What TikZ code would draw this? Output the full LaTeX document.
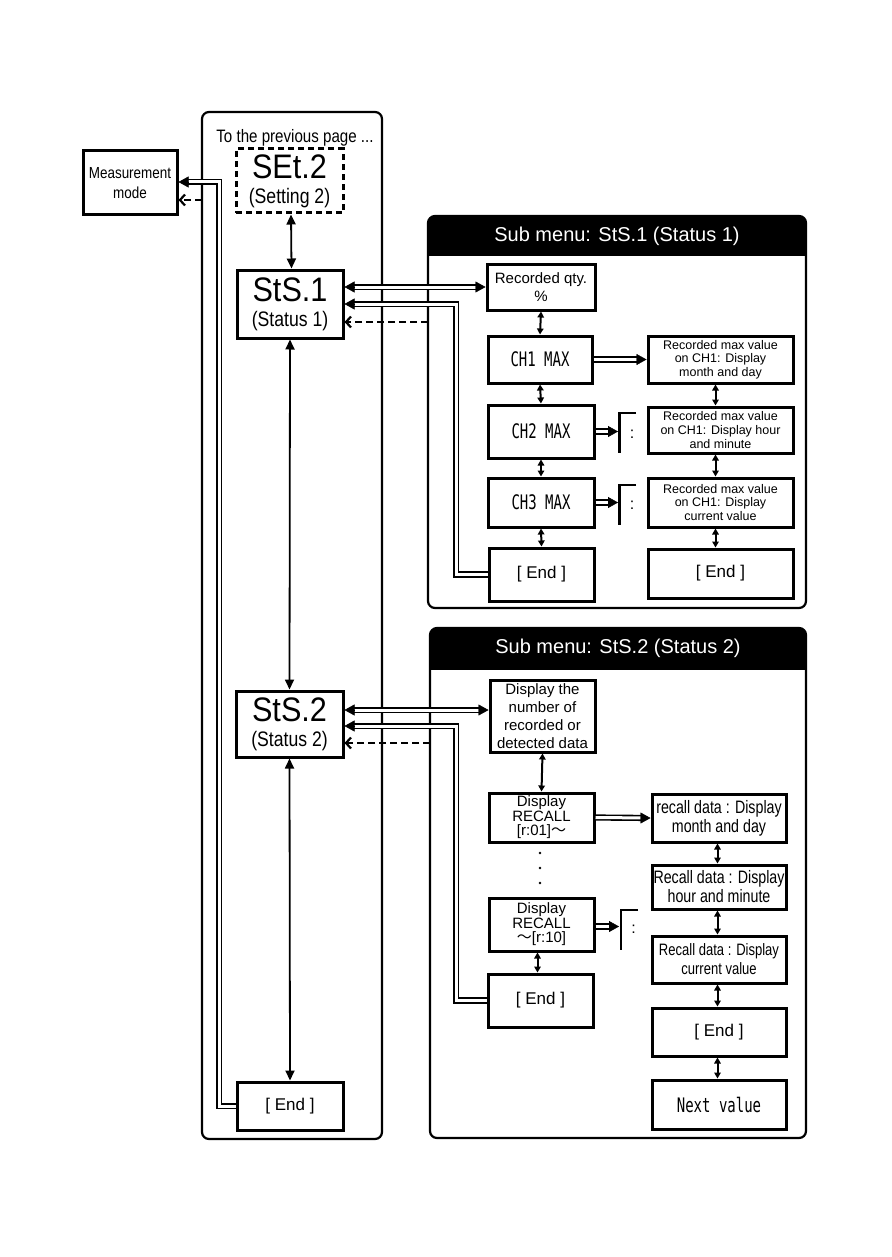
\documentclass[tikz,border=0pt]{standalone}
\usepackage{fontspec}
\setmainfont{Liberation Sans}
\newfontfamily\nar[FakeStretch=0.84]{Liberation Sans}
\newfontfamily\narr[FakeStretch=0.79]{Liberation Sans}
\newfontfamily\segf[FakeStretch=0.9]{Liberation Sans}
\newfontfamily\monof[FakeStretch=0.7]{DejaVu Sans Mono}
\newfontfamily\cjkf{Noto Sans CJK JP}
\usetikzlibrary{arrows.meta}
\newcommand\fs[2]{\fontsize{#1}{#2}\selectfont}
\newcommand\bx[6][]{\node[box,minimum width={#5pt-#3pt},minimum height={#6pt-#4pt},#1] (#2) at ({(#3+#5)/2},{(#4+#6)/2})}
\newcommand\tipL[1]{\draw[tipst] ([xshift=10pt]#1) -- (#1);}
\newcommand\tipR[1]{\draw[tipst] ([xshift=-10pt]#1) -- (#1);}
\tikzset{
  Tbig/.tip={Triangle[length=10pt,width=9pt]},
  Tsm/.tip={Triangle[length=6pt,width=6.5pt]},
  Tbarb/.tip={Straight Barb[length=5pt,width=11pt,line width=2.2pt]},
  tipst/.style={line width=0.4pt,-{Triangle[length=10pt,width=11pt]}},
  box/.style={draw, line width=3pt, inner sep=0pt, align=center},
  panel/.style={draw, line width=2.2pt, rounded corners=7pt},
  vline/.style={line width=1.8pt},
  svline/.style={line width=2pt},
  dbl/.style={double, double distance=3pt, line width=1.6pt},
  dsh/.style={line width=2pt, dash pattern=on 7pt off 4pt},
  brk/.style={line width=2.2pt},
}
\begin{document}
\begin{tikzpicture}[x=1pt,y=-1pt]
\useasboundingbox (0,0) rectangle (891,1257);

% ---------- main column ----------
\draw[panel] (202,112) rectangle (382,1139);
\node[font=\nar\fs{18}{20}] (prev) at (295,138) {To the previous page ...};
\bx[font=\nar\fs{16}{20}]{mm}{83}{151}{177}{215}{Measurement\\mode};
\bx[dash pattern=on 6pt off 4pt,font=\nar\fs{21}{25}]{set2}{236}{149}{343}{213}{{\segf\fs{34}{25}SEt.2}\\(Setting 2)};
\bx[font=\nar\fs{21}{25}]{sts1}{237}{270}{343}{338}{{\segf\fs{34}{25}StS.1}\\(Status 1)};
\bx[font=\nar\fs{21}{25}]{sts2}{236}{691}{343}{757}{{\segf\fs{34}{25}StS.2}\\(Status 2)};
\bx[font=\fs{17}{20}]{end0}{237}{1082}{343}{1130}{[ End ]};

\draw[vline,Tbig-Tbig] ([xshift=1.5pt]set2.south) -- ([xshift=1.5pt]sts1.north);
\draw[vline,Tbig-Tbig] (sts1.south) -- (sts2.north);
\draw[vline,Tbig-Tbig] (sts2.south) -- (end0.north);

\coordinate (c0) at (219,182);
\coordinate (t0) at (c0 -| mm.east);
\draw[dbl,shorten >=7pt] (end0.west) -| (c0) -- (t0);
\tipL{t0}
\coordinate (d0) at (202,200);
\draw[dsh,-Tbarb] (d0) -- (d0 -| mm.east);

% ---------- sub menu 1 ----------
\begin{scope}
\clip (420,205) rectangle (815,255);
\fill[rounded corners=7pt] (428,216) rectangle (806,300);
\end{scope}
\draw[panel] (428,216) rectangle (806,608);
\node[text=white,font=\fs{20}{22}] (h1) at (617,236) {Sub menu: StS.1 (Status 1)};

\bx[font=\fs{15}{17.6}]{rq}{487}{264}{595}{310}{Recorded qty.\\\%};
\bx[font=\monof\fs{20}{20}]{ch1}{488}{336}{592}{383}{CH1 MAX};
\bx[font=\monof\fs{20}{20}]{ch2}{488}{405}{594}{458}{CH2 MAX};
\bx[font=\monof\fs{20}{20}]{ch3}{488}{478}{594}{527}{CH3 MAX};
\bx[font=\fs{17}{20}]{endA}{489}{548}{594}{601}{[ End ]};
\bx[font=\fs{12.5}{13.7}]{r1}{648}{336}{793}{383}{Recorded max value\\on CH1: Display\\month and day};
\bx[font=\fs{12.5}{13.7}]{r2}{648}{407}{793}{453}{Recorded max value\\on CH1: Display hour\\and minute};
\bx[font=\fs{12.5}{13.7}]{r3}{648}{478}{793}{527}{Recorded max value\\on CH1: Display\\current value};
\bx[font=\fs{17}{20}]{endB}{648}{549}{793}{598}{[ End ]};

\draw[svline,Tsm-Tsm] (rq.south) -- (ch1.north);
\draw[svline,Tsm-Tsm] (ch1.south) -- (ch2.north);
\draw[svline,Tsm-Tsm] (ch2.south) -- (ch3.north);
\draw[svline,Tsm-Tsm] (ch3.south) -- (endA.north);
\draw[svline,Tsm-Tsm] ([xshift=-5pt]r1.south) -- ([xshift=-5pt]r2.north);
\draw[svline,Tsm-Tsm] ([xshift=-5pt]r2.south) -- ([xshift=-5pt]r3.north);
\draw[svline,Tsm-Tsm] ([xshift=-5pt]r3.south) -- ([xshift=-5pt]endB.north);

\coordinate (t1a) at (sts1.east |- rq.west);
\coordinate (t1b) at (rq.west);
\draw[dbl,shorten <=7pt,shorten >=7pt] (t1a) -- (t1b);
\tipL{t1a}
\tipR{t1b}
\coordinate (c1) at (456,304);
\coordinate (t1c) at (c1 -| sts1.east);
\draw[dbl,shorten >=7pt] (endA.west) -| (c1) -- (t1c);
\tipL{t1c}
\coordinate (d1) at (428,322);
\draw[dsh,-Tbarb] (d1) -- (d1 -| sts1.east);
\coordinate (t1d) at (r1.west);
\draw[dbl,shorten >=7pt] (ch1.east) -- (t1d);
\tipR{t1d}

\coordinate (b1) at (618,431.5);
\draw[dbl,shorten >=7pt] (ch2.east) -- (b1);
\tipR{b1}
\draw[brk] (636,413) -- (619.5,413) -- (619.5,453);
\node[font=\fs{16}{16}] (k1) at (632,434) {:};
\coordinate (b2) at (618,502.5);
\draw[dbl,shorten >=7pt] (ch3.east) -- (b2);
\tipR{b2}
\draw[brk] (636,485) -- (619.5,485) -- (619.5,525);
\node[font=\fs{16}{16}] (k2) at (632,505) {:};

% ---------- sub menu 2 ----------
\begin{scope}
\clip (420,615) rectangle (815,669);
\fill[rounded corners=7pt] (430,628) rectangle (806,720);
\end{scope}
\draw[panel] (430,628) rectangle (806,1138);
\node[text=white,font=\fs{20}{22}] (h2) at (618,648) {Sub menu: StS.2 (Status 2)};

\bx[font=\fs{15}{18}]{dn}{490}{680}{595}{752}{Display the\\number of\\recorded or\\detected data};
\bx[font=\fs{15}{14.5}]{rc1}{489}{793}{594}{842}{Display\\RECALL\\{}[r:01]{\cjkf ～}};
\bx[font=\fs{15}{14.5}]{rc10}{489}{898}{594}{951}{Display\\RECALL\\{\cjkf ～}[r:10]};
\bx[font=\fs{17}{20}]{endC}{488}{974}{593}{1027}{[ End ]};
\bx[font=\narr\fs{18}{19}]{m1}{652}{794}{786}{842}{recall data : Display\\month and day};
\bx[font=\narr\fs{18}{19}]{m2}{652}{865}{786}{909}{Recall data : Display\\hour and minute};
\bx[font=\narr\fs{16.5}{19}]{m3}{652}{936}{786}{983}{Recall data : Display\\current value};
\bx[font=\fs{17}{20}]{endD}{652}{1008}{786}{1056}{[ End ]};
\bx[font=\monof\fs{20}{20}]{nx}{652}{1080}{786}{1129}{Next value};

\draw[svline,Tsm-Tsm] (dn.south) -- (rc1.north);
\draw[svline,Tsm-Tsm] ([xshift=-4pt]rc10.south) -- ([xshift=-3pt]endC.north);
\draw[svline,Tsm-Tsm] ([xshift=-1.5pt]m1.south) -- ([xshift=-1.5pt]m2.north);
\draw[svline,Tsm-Tsm] ([xshift=-1.5pt]m2.south) -- ([xshift=-1.5pt]m3.north);
\draw[svline,Tsm-Tsm] ([xshift=-1.5pt]m3.south) -- ([xshift=-1.5pt]endD.north);
\draw[svline,Tsm-Tsm] ([xshift=-1.5pt]endD.south) -- ([xshift=-1.5pt]nx.north);

\fill (540,853) circle (1.3);
\fill (540,868) circle (1.3);
\fill (540,883) circle (1.3);

\coordinate (c3) at (470,710);
\coordinate (t2a) at (c3 -| sts2.east);
\coordinate (t2b) at (c3 -| dn.west);
\draw[dbl,shorten <=7pt,shorten >=7pt] (t2a) -- (t2b);
\tipL{t2a}
\tipR{t2b}
\coordinate (c4) at (456,726);
\coordinate (t2c) at (c4 -| sts2.east);
\draw[dbl,shorten >=7pt] (endC.west) -| (c4) -- (t2c);
\tipL{t2c}
\coordinate (d2) at (430,743);
\draw[dsh,-Tbarb] (d2) -- (d2 -| sts2.east);
\coordinate (t2d) at (m1.west);
\draw[dbl,shorten >=7pt] (rc1.east) -- (t2d);
\tipR{t2d}

\coordinate (b3) at (619,926.5);
\draw[dbl,shorten >=7pt] (rc10.east |- b3) -- (b3);
\tipR{b3}
\draw[brk] (638,910) -- (621,910) -- (621,950);
\node[font=\fs{16}{16}] (k3) at (633.5,929) {:};
\end{tikzpicture}
\end{document}
